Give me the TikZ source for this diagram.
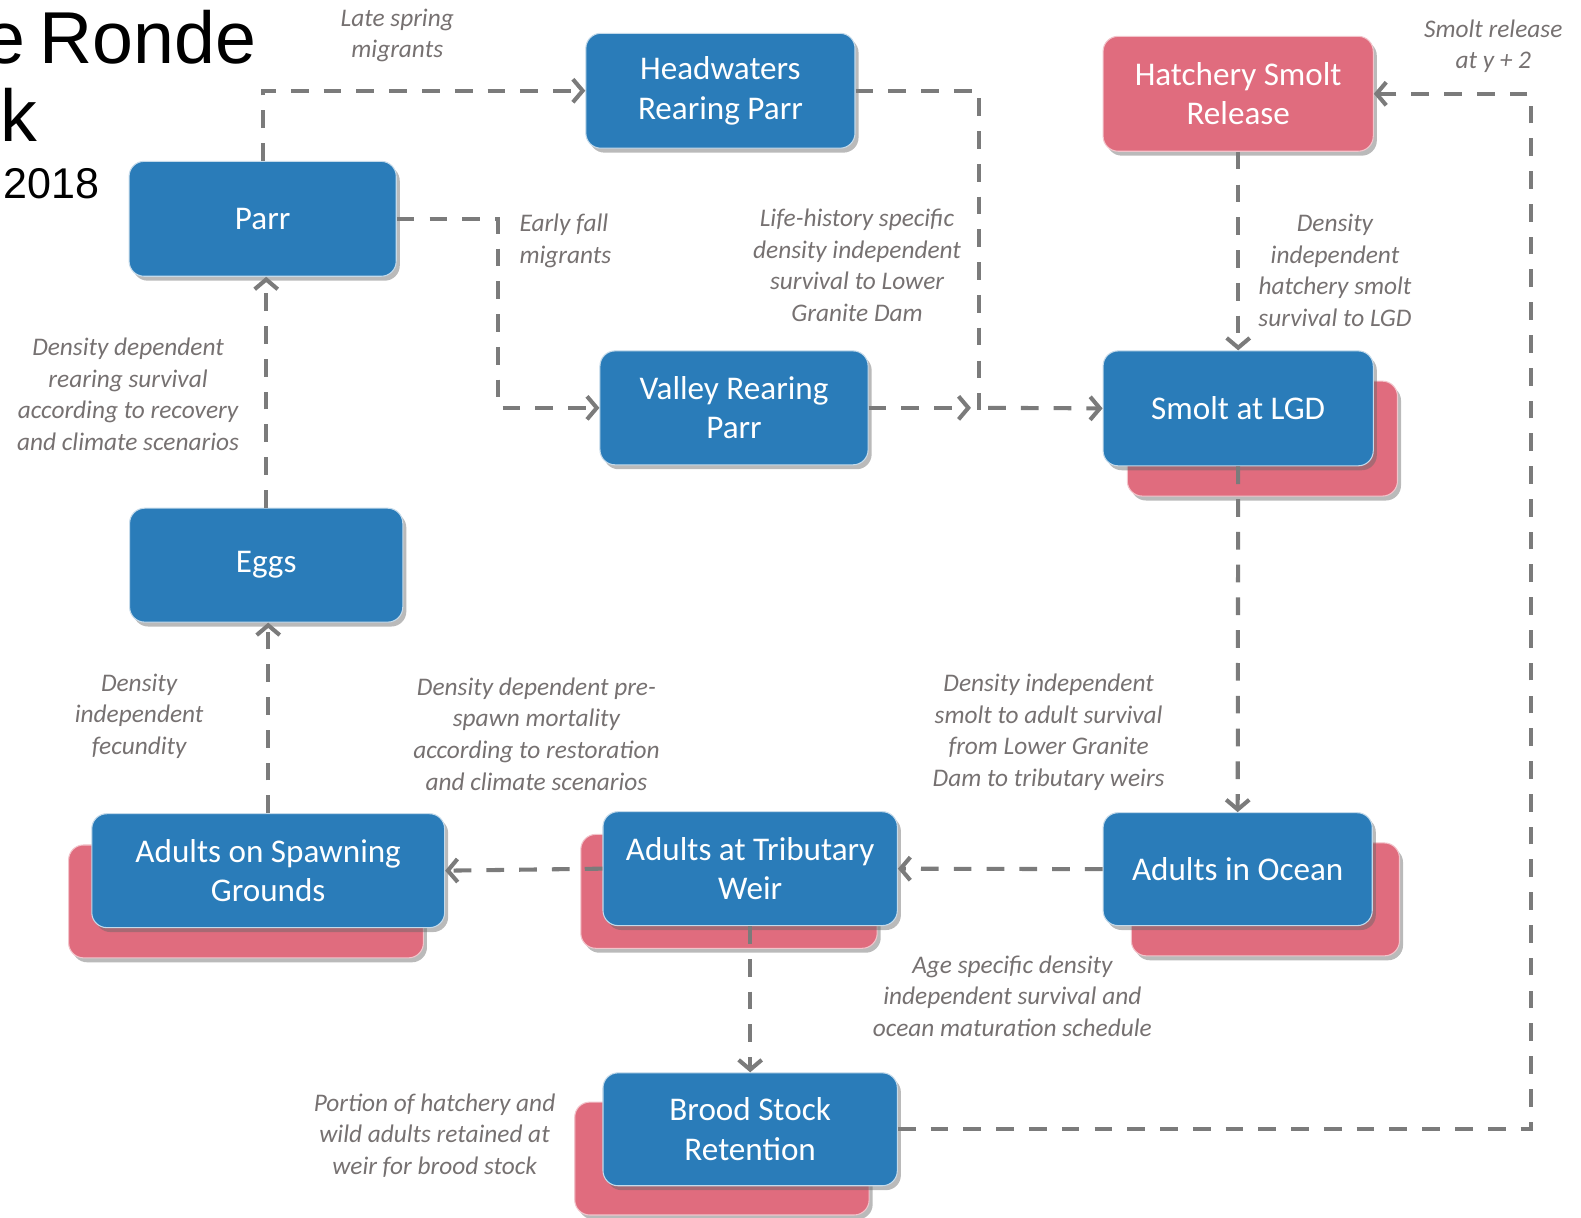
\documentclass[tikz,border=0pt]{standalone}
\usepackage{fontspec}
\newfontfamily\calibri{Carlito}
\newfontfamily\arialfont{Liberation Sans}
\usetikzlibrary{arrows.meta,shadows}
\definecolor{boxblue}{HTML}{2A7CB9}
\definecolor{boxpink}{HTML}{E06C7E}
\definecolor{linegray}{HTML}{7B7B7B}
\definecolor{lblgray}{HTML}{767171}
\definecolor{boxedge}{HTML}{C4DAEA}
\definecolor{pinkedge}{HTML}{F2C4CB}
\begin{document}
\begin{tikzpicture}[x=0.02cm,y=-0.02cm,
  stage/.style={rounded corners=8.5pt, fill=boxblue, draw=boxedge, line width=0.6pt,
    text=white, align=center, inner sep=0pt,
    font=\calibri\fontsize{18.7}{22.3}\selectfont,
    drop shadow={shadow xshift=2pt, shadow yshift=-2.5pt, opacity=0.45, fill=black!60}},
  backcard/.style={rounded corners=8.5pt, fill=boxpink, draw=pinkedge, line width=0.6pt,
    inner sep=0pt,
    drop shadow={shadow xshift=2pt, shadow yshift=-2.5pt, opacity=0.45, fill=black!60}},
  pinkstage/.style={stage, fill=boxpink, draw=pinkedge},
  note/.style={font=\calibri\itshape\fontsize{14.3}{17.8}\selectfont, text=lblgray,
    align=center, inner sep=0pt},
  title/.style={font=\arialfont\fontsize{41.5}{45}\selectfont, anchor=base west, inner sep=0pt},
  link/.style={draw=linegray, line width=2.3pt, dash pattern=on 10pt off 8.5pt},
  flow/.style={link, -{Straight Barb[length=5.5pt,width=13pt,line width=2.3pt]}}
]
\useasboundingbox (0,0) rectangle (1568,1207);
\clip (0,0) rectangle (1568,1207);

% heading, cut by the left edge
\node[title] (t1) at (-16,63) {e\kern-0.08em\ Ronde};
\node[title] (t2) at (0,140) {k};
\node[title, font=\arialfont\fontsize{24.3}{28}\selectfont] (t3) at (3,197) {2018};

% pink cards behind the stacked stages
\node[backcard, minimum width=5.36cm, minimum height=2.28cm] (smoltB) at (1252,435) {};
\node[backcard, minimum width=7.04cm, minimum height=2.24cm] (spawnB) at (244,894) {};
\node[backcard, minimum width=5.88cm, minimum height=2.26cm] (weirB) at (723,884) {};
\node[backcard, minimum width=5.32cm, minimum height=2.24cm] (oceanB) at (1255,892) {};
\node[backcard, minimum width=5.84cm, minimum height=2.24cm] (broodB) at (716,1149) {};

% life stages
\node[stage, minimum width=5.3cm, minimum height=2.28cm] (parr) at (260.5,217) {Parr};
\node[stage, minimum width=5.34cm, minimum height=2.28cm] (head) at (714.5,90) {Headwaters\\Rearing Parr};
\node[pinkstage, minimum width=5.36cm, minimum height=2.28cm] (hatch) at (1228,93) {Hatchery Smolt\\Release};
\node[stage, minimum width=5.32cm, minimum height=2.26cm] (valley) at (728,404.5) {Valley Rearing\\Parr};
\node[stage, minimum width=5.36cm, minimum height=2.28cm] (smolt) at (1228,405) {Smolt at LGD};
\node[stage, minimum width=5.42cm, minimum height=2.26cm] (eggs) at (264,560.5) {Eggs};
\node[stage, minimum width=7.0cm, minimum height=2.26cm] (spawn) at (266,863.5) {Adults on Spawning\\Grounds};
\node[stage, minimum width=5.84cm, minimum height=2.26cm] (weir) at (744,861.5) {Adults at Tributary\\Weir};
\node[stage, minimum width=5.34cm, minimum height=2.24cm] (ocean) at (1227.5,862) {Adults in Ocean};
\node[stage, minimum width=5.84cm, minimum height=2.24cm] (brood) at (744,1120) {Brood Stock\\Retention};

% bend points
\coordinate (pv) at (494,217);
\coordinate (j1) at (971,407);
\coordinate (vend) at (963,404.5);
\coordinate (j2) at (980,404.5);
\coordinate (rt) at (1518,600);

% transitions
\draw[flow] (parr.north) |- (head.west);
\draw[link] (head.east) -| (j1);
\draw[flow] (valley.east) -- (vend);
\draw[flow] (j2) -- (smolt.west);
\draw[flow] (parr.east) -- (pv) |- (valley.west);
\draw[flow] (hatch.south) -- (smolt.north);
\draw[flow] (smolt.south) -- (ocean.north);
\draw[flow] (ocean.west) -- (weir.east);
\draw[flow] (weir.west) -- (spawn.east);
\draw[flow] (spawn.north) -- (spawn.north |- eggs.south);
\draw[flow] (eggs.north) -- (eggs.north |- parr.south);
\draw[flow] (weir.south) -- (brood.north);
\draw[flow] (brood.east) -| (rt) |- (hatch.east);

% transition notes
\node[note] (n1) at (394,35) {Late spring\\migrants};
\node[note, align=left, anchor=west] (n2) at (515,239) {Early fall\\migrants};
\node[note] (n3) at (850,263) {Life-history specific\\density independent\\survival to Lower\\Granite Dam};
\node[note] (n4) at (1481,46) {Smolt release\\at y + 2};
\node[note] (n5) at (1324,268) {Density\\independent\\hatchery smolt\\survival to LGD};
\node[note] (n6) at (127,391) {Density dependent\\rearing survival\\according to recovery\\and climate scenarios};
\node[note] (n7) at (138,710) {Density\\independent\\fecundity};
\node[note] (n8) at (532,728) {Density dependent pre-\\spawn mortality\\according to restoration\\and climate scenarios};
\node[note] (n9) at (1040,726) {Density independent\\smolt to adult survival\\from Lower Granite\\Dam to tributary weirs};
\node[note] (n10) at (1004,988) {Age specific density\\independent survival and\\ocean maturation schedule};
\node[note] (n11) at (431,1126) {Portion of hatchery and\\wild adults retained at\\weir for brood stock};
\end{tikzpicture}
\end{document}
